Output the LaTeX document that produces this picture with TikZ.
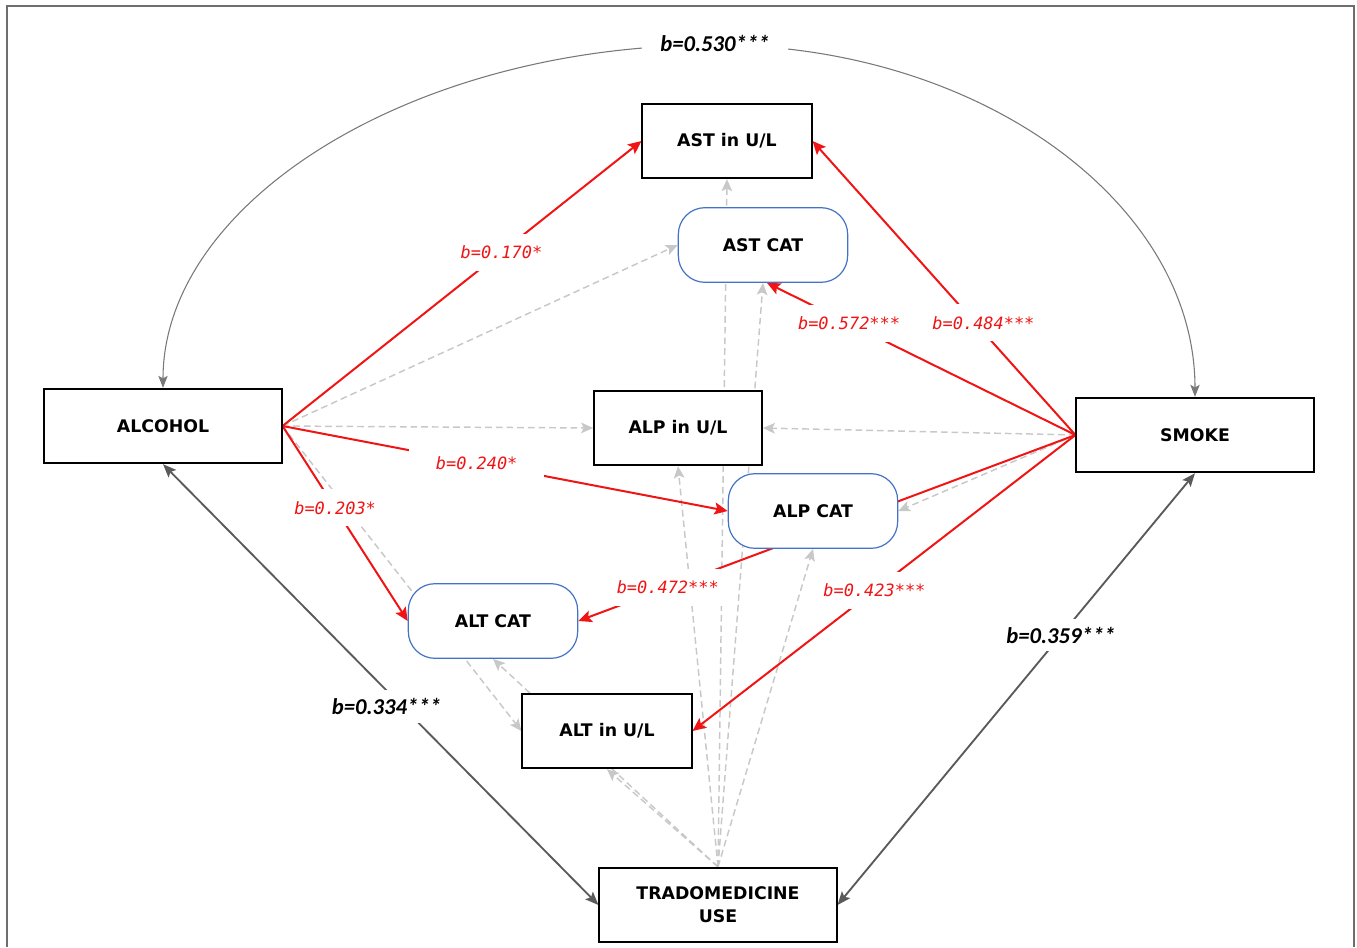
\documentclass[tikz,border=0pt]{standalone}
\usepackage{fontspec}
\usetikzlibrary{arrows.meta,backgrounds,calc}
\newfontfamily\boxfont{DejaVu Sans}
\newfontfamily\redfont{DejaVu Sans Mono}
\newfontfamily\blkfont{Carlito}
\definecolor{redline}{RGB}{240,20,20}
\definecolor{dashgray}{RGB}{200,200,200}
\definecolor{darkgraytwo}{RGB}{90,90,90}
\definecolor{arcgray}{RGB}{120,120,120}
\definecolor{framegray}{RGB}{110,110,110}
\definecolor{boxblue}{RGB}{68,114,196}
\begin{document}
\begin{tikzpicture}[x=0.75pt,y=-0.75pt,
  sqbox/.style={draw=black, line width=1.3pt, fill=white, align=center, inner sep=0pt,
    minimum height=56pt, font=\boxfont\bfseries\fontsize{13}{17}\selectfont},
  rbox/.style={draw=boxblue, line width=0.9pt, rounded corners=20pt, fill=white, inner sep=0pt,
    minimum width=127pt, minimum height=56pt, font=\boxfont\bfseries\fontsize{13}{17}\selectfont},
  redarr/.style={draw=redline, line width=1.5pt, -{Stealth[length=10pt,width=9pt,inset=2pt]}},
  dasharr/.style={draw=dashgray, line width=1.1pt, dash pattern=on 5pt off 3pt,
    -{Stealth[length=9pt,width=8pt,inset=2pt]}},
  grayarr/.style={draw=darkgraytwo, line width=1.4pt,
    {Stealth[length=10pt,width=8pt,inset=2pt]}-{Stealth[length=10pt,width=8pt,inset=2pt]}},
  arcarr/.style={draw=arcgray, line width=0.8pt,
    {Stealth[length=9pt,width=7pt,inset=2pt]}-{Stealth[length=9pt,width=7pt,inset=2pt]}},
  redlab/.style={fill=white, text=redline, inner xsep=3pt, inner ysep=9pt,
    font=\redfont\itshape\fontsize{12.7}{14}\selectfont},
  blklab/.style={fill=white, text=black, inner xsep=4pt, inner ysep=6pt,
    font=\blkfont\bfseries\itshape\fontsize{17}{19}\selectfont}]
\useasboundingbox (0,0) rectangle (1357,947);
\draw[framegray, line width=1.3pt] (7,947) -- (7,6) -- (1354,6) -- (1354,947);

% nodes
\node[sqbox, minimum width=127pt] (astul) at (727,141) {AST in U/L};
\node[rbox] (astcat) at (763,245) {AST CAT};
\node[sqbox, minimum width=178pt] (alc) at (163,426) {ALCOHOL};
\node[sqbox, minimum width=126pt] (alpul) at (678,428) {ALP in U/L};
\node[sqbox, minimum width=178pt] (smoke) at (1195,435) {SMOKE};
\node[rbox] (alpcat) at (813,511) {ALP CAT};
\node[rbox] (altcat) at (493,621) {ALT CAT};
\node[sqbox, minimum width=127pt] (altul) at (607,731) {ALT in U/L};
\node[sqbox, minimum width=178pt] (trado) at (718,905) {TRADOMEDICINE\\USE};

\begin{scope}[on background layer]
% dashed (non-significant) paths
\draw[dasharr] (alc.east) -- (astcat.west);
\draw[dasharr] (alc.east) -- (alpul.west);
\draw[dasharr] (alc.east) -- (altul.west);
\draw[dasharr] (smoke.west) -- (alpul.east);
\draw[dasharr] (smoke.west) -- (alpcat.east);
\draw[dasharr] (trado.north) -- (astul.south);
\draw[dasharr] (trado.north) -- (astcat.south);
\draw[dasharr] (trado.north) -- (alpul.south);
\draw[dasharr] (trado.north) -- (alpcat.south);
\draw[dasharr] (trado.north) -- (altul.south);
\draw[dasharr] (trado.north) -- (altcat.south);
% significant paths
\draw[redarr] (alc.east) -- node[redlab,pos=0.61]{b=0.170*} (astul.west);
\draw[redarr] (alc.east) -- node[redlab,pos=0.436,inner xsep=20pt]{b=0.240*} (alpcat.west);
\draw[redarr] (alc.east) -- node[redlab,pos=0.42]{b=0.203*} (altcat.west);
\draw[redarr] (smoke.west) -- node[redlab,pos=0.35,yshift=7pt]{b=0.484***} (astul.east);
\draw[redarr] (smoke.west) -- node[redlab,pos=0.734]{b=0.572***} ([xshift=3pt]astcat.south);
\draw[redarr] (smoke.west) -- node[redlab,pos=0.82]{b=0.472***} (altcat.east);
\draw[redarr] (smoke.west) -- node[redlab,pos=0.525]{b=0.423***} (altul.east);
% covariances
\draw[grayarr] (alc.south) -- node[blklab,pos=0.55,xshift=-12pt]{b=0.334***} (trado.west);
\draw[grayarr] (smoke.south) -- node[blklab,pos=0.375]{b=0.359***} (trado.east);
\draw[arcarr] (alc.north) .. controls (163,202) and (412,45) .. (715,45)
  .. controls (980,45) and (1195,203) .. (smoke.north);
\node[blklab, inner xsep=14pt] (arclab) at (715,43) {b=0.530***};
\end{scope}
\end{tikzpicture}
\end{document}
